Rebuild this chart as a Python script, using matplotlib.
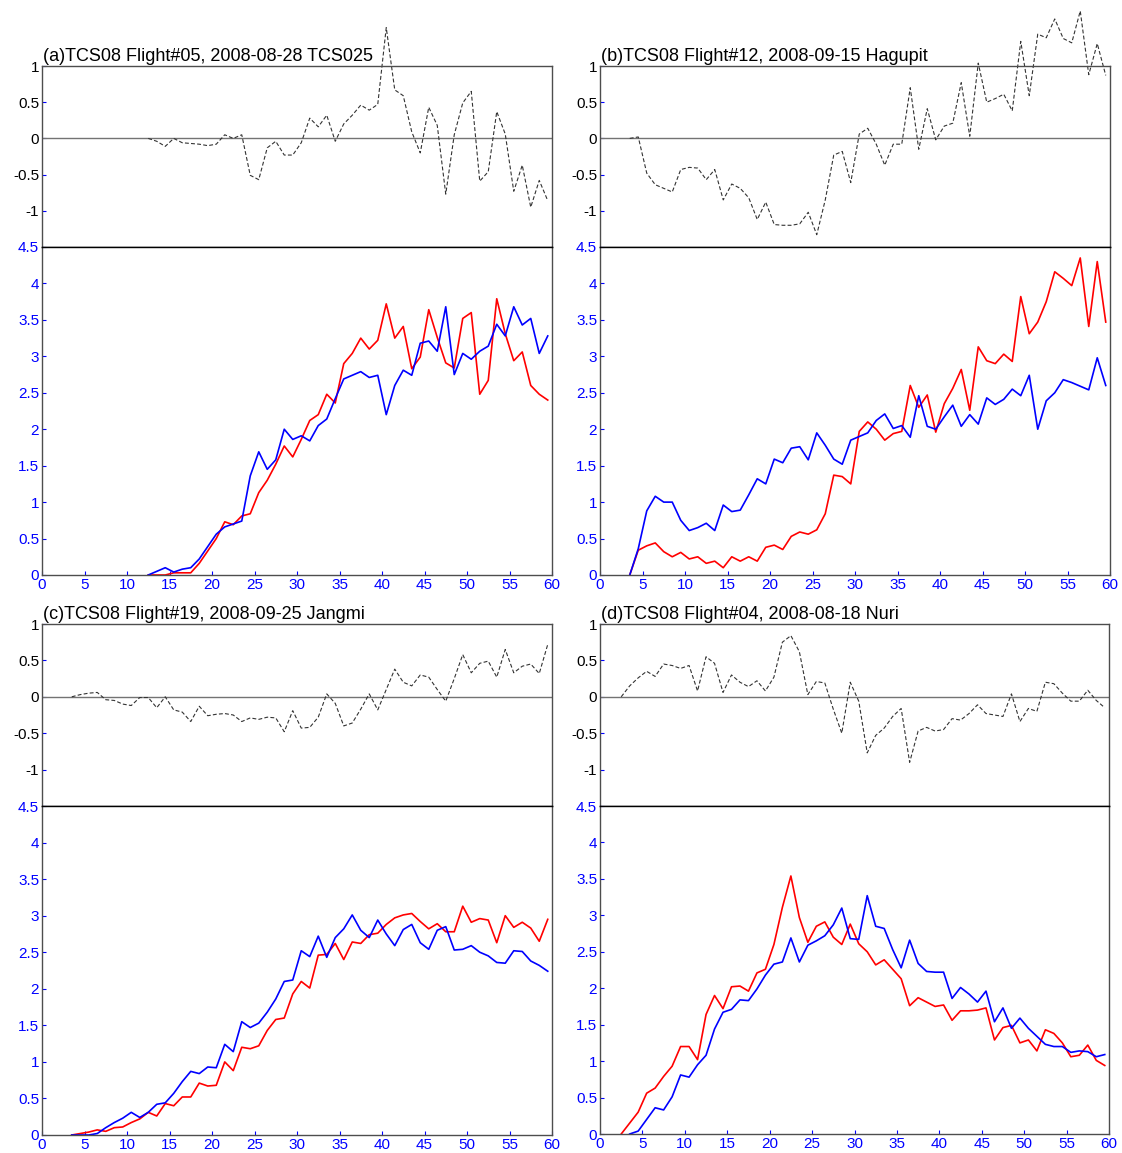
import numpy as np
import matplotlib.pyplot as plt

plt.rcParams['font.family'] = ['Liberation Sans', 'DejaVu Sans']

NAN = np.nan
x = np.arange(0.5, 60, 1.0)

titles = ['(a)TCS08 Flight#05, 2008-08-28 TCS025',
          '(b)TCS08 Flight#12, 2008-09-15 Hagupit',
          '(c)TCS08 Flight#19, 2008-09-25 Jangmi',
          '(d)TCS08 Flight#04, 2008-08-18 Nuri']

# panel (a), values from x=12.5
a_red = [NAN] * 12 + [0, 0, 0, 0.03, 0.03, 0.03, 0.16, 0.33, 0.5, 0.73,
                      0.69, 0.81, 0.84, 1.13, 1.3, 1.52, 1.77, 1.62, 1.86, 2.12,
                      2.2, 2.48, 2.36, 2.9, 3.04, 3.25, 3.1, 3.22, 3.72, 3.25,
                      3.41, 2.83, 2.99, 3.64, 3.26, 2.91, 2.84, 3.52, 3.6, 2.48,
                      2.67, 3.79, 3.31, 2.94, 3.06, 2.6, 2.48, 2.4]
a_blue = [NAN] * 12 + [0, 0.05, 0.1, 0.04, 0.08, 0.1, 0.22, 0.39, 0.56, 0.66,
                       0.7, 0.74, 1.36, 1.69, 1.45, 1.58, 2.0, 1.86, 1.91, 1.84,
                       2.05, 2.14, 2.42, 2.69, 2.74, 2.79, 2.71, 2.74, 2.2, 2.6,
                       2.81, 2.74, 3.18, 3.21, 3.07, 3.68, 2.75, 3.04, 2.96, 3.07,
                       3.14, 3.44, 3.28, 3.68, 3.43, 3.52, 3.04, 3.28]
a_diff = [NAN] * 12 + [0, -0.04, -0.11, 0.0, -0.06, -0.07, -0.08, -0.1, -0.08, 0.05,
                       0.0, 0.05, -0.51, -0.57, -0.13, -0.04, -0.23, -0.23, -0.06, 0.28,
                       0.16, 0.32, -0.04, 0.2, 0.32, 0.46, 0.39, 0.47, 1.53, 0.67,
                       0.59, 0.09, -0.2, 0.43, 0.18, -0.77, 0.05, 0.49, 0.65, -0.59,
                       -0.46, 0.37, 0.06, -0.73, -0.37, -0.95, -0.58, -0.86]

# panel (b), values from x=3.5
b_red = [NAN] * 3 + [0, 0.34, 0.4, 0.44, 0.32, 0.25, 0.31, 0.22, 0.25, 0.16,
                     0.19, 0.1, 0.25, 0.19, 0.25, 0.19, 0.38, 0.41, 0.35, 0.53,
                     0.59, 0.56, 0.62, 0.84, 1.37, 1.35, 1.25, 1.97, 2.1, 2.0,
                     1.85, 1.94, 1.97, 2.6, 2.3, 2.47, 1.96, 2.35, 2.56, 2.82,
                     2.26, 3.13, 2.94, 2.9, 3.03, 2.93, 3.82, 3.31, 3.47, 3.75,
                     4.16, 4.07, 3.97, 4.35, 3.41, 4.3, 3.47]
b_blue = [NAN] * 3 + [0, 0.36, 0.88, 1.08, 1.0, 1.0, 0.75, 0.61, 0.65, 0.71,
                      0.61, 0.96, 0.87, 0.89, 1.1, 1.32, 1.25, 1.59, 1.54, 1.74,
                      1.76, 1.58, 1.95, 1.78, 1.59, 1.52, 1.85, 1.9, 1.95, 2.12,
                      2.21, 2.01, 2.05, 1.89, 2.46, 2.04, 2.0, 2.17, 2.33, 2.04,
                      2.2, 2.07, 2.43, 2.34, 2.41, 2.55, 2.46, 2.74, 2.0, 2.39,
                      2.5, 2.68, 2.64, 2.59, 2.54, 2.98, 2.6]
b_diff = [NAN] * 3 + [0, 0.02, -0.48, -0.64, -0.69, -0.74, -0.43, -0.4, -0.41, -0.57,
                      -0.43, -0.85, -0.63, -0.69, -0.82, -1.12, -0.88, -1.19, -1.2, -1.2,
                      -1.18, -1.02, -1.33, -0.85, -0.23, -0.18, -0.61, 0.06, 0.14, -0.08,
                      -0.37, -0.08, -0.08, 0.7, -0.15, 0.41, -0.02, 0.17, 0.21, 0.77,
                      0.03, 1.04, 0.5, 0.55, 0.61, 0.38, 1.34, 0.59, 1.44, 1.39,
                      1.65, 1.38, 1.32, 1.76, 0.88, 1.31, 0.87]

# panel (c), values from x=3.5
c_red = [NAN] * 3 + [0, 0.02, 0.04, 0.07, 0.05, 0.1, 0.11, 0.17, 0.22, 0.31,
                     0.26, 0.43, 0.4, 0.52, 0.52, 0.71, 0.67, 0.68, 1.0, 0.88,
                     1.2, 1.18, 1.22, 1.43, 1.58, 1.6, 1.93, 2.1, 2.01, 2.46,
                     2.47, 2.62, 2.4, 2.64, 2.62, 2.74, 2.76, 2.88, 2.97, 3.01,
                     3.03, 2.92, 2.82, 2.89, 2.78, 2.78, 3.13, 2.91, 2.96, 2.94,
                     2.63, 3.0, 2.84, 2.91, 2.83, 2.65, 2.95]
c_blue = [NAN] * 3 + [0, 0, 0, 0.02, 0.1, 0.17, 0.23, 0.31, 0.24, 0.31,
                      0.42, 0.44, 0.57, 0.73, 0.87, 0.84, 0.93, 0.92, 1.24, 1.14,
                      1.55, 1.47, 1.53, 1.68, 1.86, 2.1, 2.12, 2.52, 2.44, 2.72,
                      2.43, 2.7, 2.82, 3.01, 2.8, 2.7, 2.94, 2.75, 2.59, 2.81,
                      2.88, 2.63, 2.54, 2.8, 2.85, 2.53, 2.54, 2.59, 2.5, 2.45,
                      2.36, 2.35, 2.52, 2.51, 2.38, 2.32, 2.24]
c_diff = [NAN] * 3 + [0, 0.03, 0.05, 0.06, -0.04, -0.05, -0.1, -0.12, -0.01, -0.01,
                      -0.15, 0.0, -0.18, -0.21, -0.34, -0.13, -0.26, -0.24, -0.23, -0.25,
                      -0.34, -0.29, -0.31, -0.28, -0.29, -0.48, -0.19, -0.43, -0.42, -0.28,
                      0.04, -0.09, -0.4, -0.36, -0.17, 0.04, -0.18, 0.1, 0.38, 0.2,
                      0.15, 0.3, 0.27, 0.1, -0.06, 0.25, 0.58, 0.33, 0.46, 0.49,
                      0.27, 0.65, 0.33, 0.42, 0.45, 0.32, 0.72]

# panel (d), values from x=2.5
d_red = [NAN] * 2 + [0, 0.15, 0.3, 0.56, 0.63, 0.79, 0.93, 1.2, 1.2, 1.02,
                     1.64, 1.9, 1.72, 2.02, 2.03, 1.96, 2.21, 2.26, 2.6, 3.11,
                     3.54, 2.97, 2.63, 2.85, 2.91, 2.7, 2.6, 2.88, 2.61, 2.5,
                     2.32, 2.39, 2.26, 2.13, 1.76, 1.87, 1.81, 1.75, 1.77, 1.56,
                     1.69, 1.69, 1.7, 1.73, 1.29, 1.46, 1.49, 1.25, 1.29, 1.14,
                     1.43, 1.38, 1.25, 1.06, 1.08, 1.22, 1.01, 0.94]
d_blue = [NAN] * 3 + [0, 0.04, 0.2, 0.36, 0.33, 0.51, 0.81, 0.78, 0.95,
                      1.08, 1.44, 1.67, 1.71, 1.84, 1.83, 1.99, 2.18, 2.33, 2.36,
                      2.69, 2.36, 2.59, 2.65, 2.72, 2.87, 3.1, 2.68, 2.67, 3.27,
                      2.85, 2.82, 2.53, 2.28, 2.66, 2.34, 2.23, 2.22, 2.22, 1.86,
                      2.01, 1.92, 1.81, 1.96, 1.54, 1.73, 1.45, 1.59, 1.45, 1.34,
                      1.23, 1.2, 1.2, 1.12, 1.14, 1.13, 1.06, 1.09]
d_diff = [NAN] * 2 + [0, 0.15, 0.26, 0.35, 0.28, 0.45, 0.43, 0.39, 0.43, 0.08,
                      0.55, 0.46, 0.06, 0.3, 0.2, 0.14, 0.22, 0.08, 0.27, 0.75,
                      0.84, 0.62, 0.03, 0.21, 0.19, -0.17, -0.5, 0.2, -0.06, -0.77,
                      -0.53, -0.43, -0.27, -0.16, -0.9, -0.47, -0.42, -0.47, -0.45, -0.3,
                      -0.32, -0.23, -0.11, -0.23, -0.25, -0.27, 0.04, -0.34, -0.16, -0.2,
                      0.2, 0.18, 0.05, -0.06, -0.06, 0.09, -0.05, -0.15]

top_ticks = [-1, -0.5, 0, 0.5, 1]
top_labels = ['-1', '-0.5', '0', '0.5', '1']
bot_ticks = [0, 0.5, 1, 1.5, 2, 2.5, 3, 3.5, 4, 4.5]
bot_labels = ['0', '0.5', '1', '1.5', '2', '2.5', '3', '3.5', '4', '4.5']
x_ticks = list(range(0, 61, 5))

W, H = 1122, 1153
fig = plt.figure(figsize=(W / 100, H / 100), dpi=100)


def px_axes(l, t, r, b):
    return fig.add_axes([l / W, 1 - b / H, (r - l) / W, (b - t) / H])


# pixel boxes: (left, top, split, bottom, right)
boxes = [(42, 66, 247, 575, 552), (600, 66, 247, 575, 1110),
         (42, 624, 806, 1135, 552), (600, 624, 806, 1134, 1109)]
data = [(a_red, a_blue, a_diff), (b_red, b_blue, b_diff),
        (c_red, c_blue, c_diff), (d_red, d_blue, d_diff)]

for (l, t, s, b, r), title, (red, blue, diff) in zip(boxes, titles, data):
    ax1 = px_axes(l, t, r, s)
    ax2 = px_axes(l, s, r, b)

    # upper part: difference
    ax1.axhline(0, color='0.45', lw=1)
    ax1.plot(x, diff, color='0.2', lw=0.8, dashes=(3.5, 2), clip_on=False)
    ax1.set_xlim(0, 60)
    ax1.set_ylim(-1.5, 1)
    ax1.set_xticks([])
    ax1.set_yticks(top_ticks)
    ax1.set_yticklabels(top_labels)
    ax1.tick_params(axis='y', direction='in', length=3, color='blue',
                    labelcolor='black', labelsize=11, pad=2)
    ax1.text(0.002, 1.006, title, transform=ax1.transAxes, ha='left',
             va='bottom', fontsize=13)

    # lower part: the two profiles
    ax2.plot(x, red, color='red', lw=1.2)
    ax2.plot(x, blue, color='blue', lw=1.2)
    ax2.set_xlim(0, 60)
    ax2.set_ylim(0, 4.5)
    ax2.set_xticks(x_ticks)
    ax2.set_yticks(bot_ticks)
    ax2.set_yticklabels(bot_labels)
    ax2.tick_params(direction='in', length=3, color='blue',
                    labelcolor='blue', labelsize=11, pad=2)

    for ax in (ax1, ax2):
        for sp in ax.spines.values():
            sp.set_color('0.3')
            sp.set_linewidth(1)
    ax1.spines['bottom'].set_color('black')
    ax2.spines['top'].set_color('black')

fig.savefig('out.png', dpi=100)
